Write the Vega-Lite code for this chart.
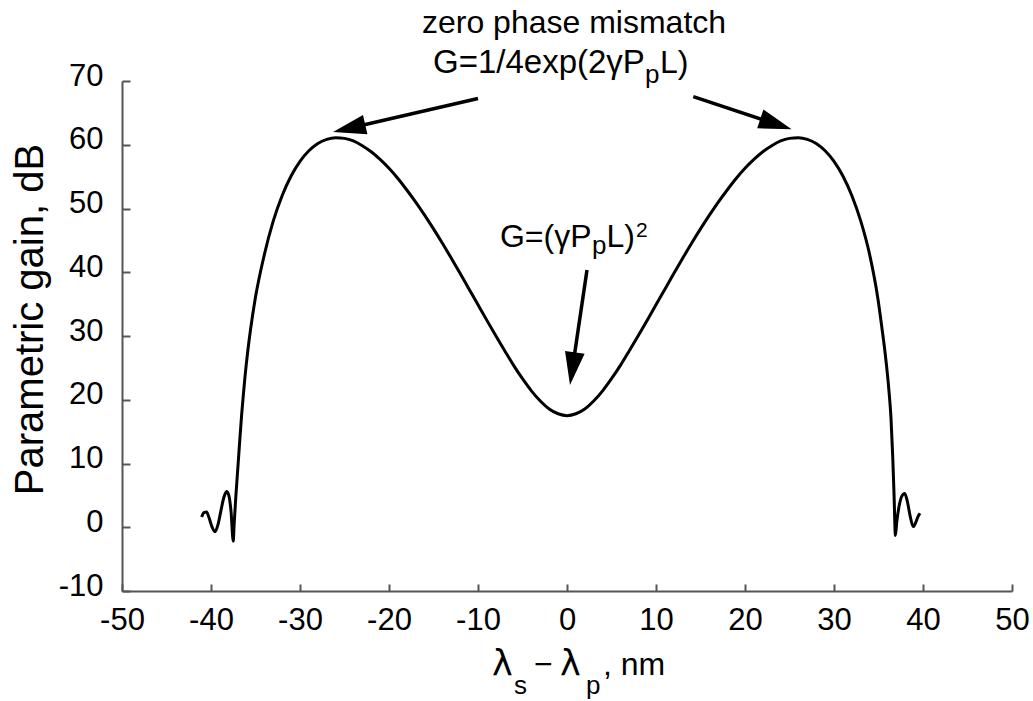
{
  "$schema": "https://vega.github.io/schema/vega-lite/v6.json",
  "width": 890,
  "height": 510,
  "autosize": {"type": "none"},
  "padding": {"left": 122, "top": 81, "right": 21, "bottom": 110},
  "background": "white",
  "config": {"view": {"stroke": null}, "font": "Liberation Sans"},
  "datasets": {
    "curve": [
      {"x": -41.05, "y": 1.6}, {"x": -40.8, "y": 2.3}, {"x": -40.5, "y": 2.4}, {"x": -40.2, "y": 1.4},
      {"x": -39.9, "y": 0.1}, {"x": -39.55, "y": -0.7}, {"x": -39.2, "y": 0.5}, {"x": -38.9, "y": 2.5},
      {"x": -38.55, "y": 4.7}, {"x": -38.25, "y": 5.6}, {"x": -38.0, "y": 5.0}, {"x": -37.75, "y": 2.5},
      {"x": -37.5, "y": -2.2}, {"x": -37.4, "y": 0.5}, {"x": -37.2, "y": 5.0}, {"x": -37.0, "y": 9.0},
      {"x": -36.8, "y": 13.0}, {"x": -36.55, "y": 17.8}, {"x": -36.35, "y": 21.0}, {"x": -36.2, "y": 23.3},
      {"x": -36.05, "y": 25.4}, {"x": -35.85, "y": 27.85}, {"x": -35.55, "y": 31.1}, {"x": -35.05, "y": 35.7},
      {"x": -34, "y": 42.8}, {"x": -33, "y": 48.05}, {"x": -32, "y": 52.05}, {"x": -31, "y": 55.1},
      {"x": -30, "y": 57.4}, {"x": -29, "y": 59.05}, {"x": -28, "y": 60.2}, {"x": -27, "y": 60.85},
      {"x": -26, "y": 61.1}, {"x": -25, "y": 61.0}, {"x": -24, "y": 60.6}, {"x": -23, "y": 59.85},
      {"x": -22, "y": 58.9}, {"x": -21, "y": 57.7}, {"x": -20, "y": 56.3}, {"x": -19, "y": 54.7},
      {"x": -18, "y": 52.9}, {"x": -17, "y": 51.0}, {"x": -16, "y": 48.95}, {"x": -15, "y": 46.8},
      {"x": -14, "y": 44.55}, {"x": -13, "y": 42.2}, {"x": -12, "y": 39.8}, {"x": -11, "y": 37.35},
      {"x": -10, "y": 34.9}, {"x": -9, "y": 32.45}, {"x": -8, "y": 30.05}, {"x": -7, "y": 27.7},
      {"x": -6, "y": 25.4}, {"x": -5, "y": 23.3}, {"x": -4, "y": 21.4}, {"x": -3, "y": 19.8},
      {"x": -2, "y": 18.55}, {"x": -1, "y": 17.8}, {"x": 0, "y": 17.5}, {"x": 1, "y": 17.8},
      {"x": 2, "y": 18.55}, {"x": 3, "y": 19.8}, {"x": 4, "y": 21.4}, {"x": 5, "y": 23.3},
      {"x": 6, "y": 25.4}, {"x": 7, "y": 27.7}, {"x": 8, "y": 30.05}, {"x": 9, "y": 32.45},
      {"x": 10, "y": 34.9}, {"x": 11, "y": 37.35}, {"x": 12, "y": 39.8}, {"x": 13, "y": 42.2},
      {"x": 14, "y": 44.55}, {"x": 15, "y": 46.8}, {"x": 16, "y": 48.95}, {"x": 17, "y": 51.0},
      {"x": 18, "y": 52.9}, {"x": 19, "y": 54.7}, {"x": 20, "y": 56.3}, {"x": 21, "y": 57.7},
      {"x": 22, "y": 58.9}, {"x": 23, "y": 59.85}, {"x": 24, "y": 60.6}, {"x": 25, "y": 61.0},
      {"x": 26, "y": 61.1}, {"x": 27, "y": 60.85}, {"x": 28, "y": 60.2}, {"x": 29, "y": 59.05},
      {"x": 30, "y": 57.4}, {"x": 31, "y": 55.1}, {"x": 32, "y": 52.05}, {"x": 33, "y": 48.05},
      {"x": 34, "y": 42.8}, {"x": 34.95, "y": 35.7}, {"x": 35.4, "y": 31.1}, {"x": 35.7, "y": 27.85},
      {"x": 35.9, "y": 25.4}, {"x": 36.05, "y": 23.3}, {"x": 36.2, "y": 21.0}, {"x": 36.4, "y": 17.2},
      {"x": 36.6, "y": 11.0}, {"x": 36.75, "y": 5.0}, {"x": 36.9, "y": -1.3}, {"x": 37.05, "y": 0.8},
      {"x": 37.3, "y": 3.2}, {"x": 37.6, "y": 4.8}, {"x": 37.95, "y": 5.3}, {"x": 38.25, "y": 4.0},
      {"x": 38.55, "y": 1.8}, {"x": 38.9, "y": 0.1}, {"x": 39.2, "y": 0.8}, {"x": 39.45, "y": 1.7},
      {"x": 39.66, "y": 2.2}
    ],
    "arrows": [
      {"id": "a1", "x": -10.0, "y": 67.25, "xh": -24.48, "yh": 62.58},
      {"id": "a2", "x": 14.19, "y": 67.54, "xh": 23.48, "yh": 63.24},
      {"id": "a3", "x": 2.247, "y": 40.35, "xh": 0.607, "yh": 24.87}
    ],
    "heads": [
      {"id": "a1", "x": -24.48, "y": 62.58},
      {"id": "a2", "x": 23.48, "y": 63.24},
      {"id": "a3", "x": 0.607, "y": 24.87}
    ],
    "topMain": [
      {"x": -15.06, "y": 71.21, "t": "G=1/4exp(2γP"}
    ],
    "mainText": [
      {"x": 10.45, "y": 71.21, "t": "L)"},
      {"x": -7.53, "y": 44.0, "t": "G=(γP"},
      {"x": 4.44, "y": 44.0, "t": "L)"}
    ],
    "titleText": [
      {"x": -3.71, "y": -23.18, "t": "−"},
      {"x": 4.04, "y": -23.18, "t": ", nm"}
    ],
    "lambdas": [
      {"x": -8.43, "y": -23.18, "t": "λ"},
      {"x": -0.79, "y": -23.18, "t": "λ"}
    ],
    "subs": [
      {"x": 8.76, "y": 69.72, "t": "p"},
      {"x": 2.81, "y": 42.82, "t": "p"},
      {"x": -5.96, "y": -26.16, "t": "s"},
      {"x": 2.13, "y": -26.16, "t": "p"}
    ],
    "sups": [
      {"x": 7.75, "y": 45.53, "t": "2"}
    ],
    "notesCenter": [
      {"x": 0.79, "y": 77.48, "t": "zero phase mismatch"}
    ]
  },
  "encoding": {
    "x": {
      "field": "x", "type": "quantitative",
      "scale": {"domain": [-50, 50], "nice": false, "zero": false},
      "axis": {
        "values": [-50, -40, -30, -20, -10, 0, 10, 20, 30, 40, 50],
        "title": null, "grid": false,
        "domainColor": "#555", "domainWidth": 2,
        "tickColor": "#555", "tickWidth": 2, "tickSize": -7,
        "labelPadding": 21, "labelFontSize": 31, "labelFont": "Liberation Sans",
        "labelColor": "black", "labelFlush": false, "labelOverlap": false,
        "labelExpr": "'' + datum.value"
      }
    },
    "y": {
      "field": "y", "type": "quantitative",
      "scale": {"domain": [-10, 70], "nice": false, "zero": false},
      "axis": {
        "values": [-10, 0, 10, 20, 30, 40, 50, 60, 70],
        "title": "Parametric gain, dB", "grid": false,
        "domainColor": "#555", "domainWidth": 2,
        "tickColor": "#555", "tickWidth": 2, "tickSize": -8,
        "labelPadding": 27, "labelFontSize": 31, "labelFont": "Liberation Sans",
        "labelColor": "black", "labelFlush": false, "labelOverlap": false,
        "labelBaseline": "middle", "labelOffset": -5,
        "labelExpr": "'' + datum.value",
        "titleFont": "Liberation Sans", "titleFontSize": 40, "titleFontWeight": "normal",
        "titleColor": "black", "titleAngle": -90, "titleAlign": "center",
        "titleBaseline": "alphabetic", "titleX": -80, "titleY": 238
      }
    }
  },
  "layer": [
    {
      "data": {"name": "curve"},
      "mark": {"type": "line", "color": "black", "strokeWidth": 3, "interpolate": "monotone", "clip": false}
    },
    {
      "data": {"name": "arrows"},
      "mark": {"type": "rule", "color": "black", "strokeWidth": 3.5},
      "encoding": {"x2": {"field": "xh"}, "y2": {"field": "yh"}}
    },
    {
      "data": {"name": "heads"},
      "transform": [{"filter": "datum.id == 'a1'"}],
      "mark": {"type": "point", "shape": "M0,-1L0.6,1L-0.6,1Z", "filled": true, "color": "black", "opacity": 1, "size": 1089, "angle": -103, "strokeWidth": 0}
    },
    {
      "data": {"name": "heads"},
      "transform": [{"filter": "datum.id == 'a2'"}],
      "mark": {"type": "point", "shape": "M0,-1L0.6,1L-0.6,1Z", "filled": true, "color": "black", "opacity": 1, "size": 1089, "angle": 108.3, "strokeWidth": 0}
    },
    {
      "data": {"name": "heads"},
      "transform": [{"filter": "datum.id == 'a3'"}],
      "mark": {"type": "point", "shape": "M0,-1L0.6,1L-0.6,1Z", "filled": true, "color": "black", "opacity": 1, "size": 1089, "angle": -171.6, "strokeWidth": 0}
    },
    {
      "data": {"name": "topMain"},
      "mark": {"type": "text", "align": "left", "baseline": "alphabetic", "font": "Liberation Sans", "fontSize": 33, "color": "black"},
      "encoding": {"text": {"field": "t"}}
    },
    {
      "data": {"name": "mainText"},
      "mark": {"type": "text", "align": "left", "baseline": "alphabetic", "font": "Liberation Sans", "fontSize": 32, "color": "black"},
      "encoding": {"text": {"field": "t"}}
    },
    {
      "data": {"name": "titleText"},
      "mark": {"type": "text", "align": "left", "baseline": "alphabetic", "font": "Liberation Sans", "fontSize": 32, "color": "black"},
      "encoding": {"text": {"field": "t"}}
    },
    {
      "data": {"name": "lambdas"},
      "mark": {"type": "text", "align": "left", "baseline": "alphabetic", "font": "DejaVu Sans", "fontSize": 35, "color": "black"},
      "encoding": {"text": {"field": "t"}}
    },
    {
      "data": {"name": "subs"},
      "mark": {"type": "text", "align": "left", "baseline": "alphabetic", "font": "Liberation Sans", "fontSize": 26, "color": "black"},
      "encoding": {"text": {"field": "t"}}
    },
    {
      "data": {"name": "sups"},
      "mark": {"type": "text", "align": "left", "baseline": "alphabetic", "font": "Liberation Sans", "fontSize": 21, "color": "black"},
      "encoding": {"text": {"field": "t"}}
    },
    {
      "data": {"name": "notesCenter"},
      "mark": {"type": "text", "align": "center", "baseline": "alphabetic", "font": "Liberation Sans", "fontSize": 32, "color": "black"},
      "encoding": {"text": {"field": "t"}}
    }
  ]
}
